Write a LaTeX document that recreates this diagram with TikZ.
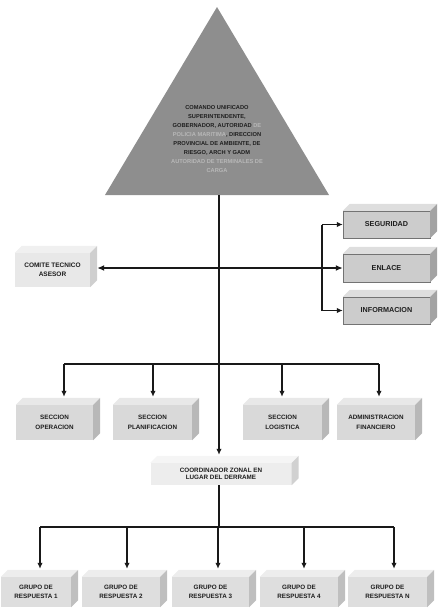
\documentclass[tikz,border=0pt]{standalone}
\usepackage{fontspec}
\setmainfont{Liberation Sans}
\usetikzlibrary{arrows.meta}
\definecolor{tri}{HTML}{8E8E8E}
\definecolor{trifaint}{HTML}{B8B8B8}
\definecolor{txt}{HTML}{1E1E1E}
\tikzset{
  cube/.style={fill=#1, inner sep=0pt, align=center, text=txt,
    font=\bfseries\fontsize{6.3}{7.6}\selectfont},
  cubeR/.style={cube=#1, draw=black!55, line width=0.4pt,
    font=\bfseries\fontsize{7.2}{8.6}\selectfont},
  conn/.style={line width=1.6pt, black!90},
  arr/.style={conn, -{Latex[length=6pt,width=5.5pt]}},
  dblarr/.style={conn, line width=1.9pt, {Latex[length=7pt,width=6pt]}-{Latex[length=7pt,width=6pt]}},
  totop/.style={shorten >=8pt}
}
\newcommand\boxfaces[3]{%
  \fill[#2] (#1.north west) -- ++(7,-7) -- ([shift={(7,-7)}]#1.north east) -- (#1.north east) -- cycle;
  \fill[#3] (#1.north east) -- ++(7,-7) -- ([shift={(7,-7)}]#1.south east) -- (#1.south east) -- cycle;
}
\begin{document}
\begin{tikzpicture}[x=1pt,y=-1pt]
\useasboundingbox (0,0) rectangle (441,614);

% triangle
\coordinate (apex) at (217,7);
\coordinate (bl) at (105,195);
\coordinate (br) at (329,195);
\coordinate (tbase) at (219,195);
\fill[tri] (apex) -- (br) -- (bl) -- cycle;
\node[align=center, text=txt, font=\bfseries\fontsize{5.7}{9.1}\selectfont] (cmd) at (217,139)
 {COMANDO UNIFICADO\\
  SUPERINTENDENTE,\\
  GOBERNADOR, AUTORIDAD \textcolor{trifaint}{DE}\\
  \textcolor{trifaint}{POLICIA MARITIMA}, DIRECCION\\
  PROVINCIAL DE AMBIENTE, DE\\
  RIESGO, ARCH Y GADM\\
  \textcolor{trifaint}{AUTORIDAD DE TERMINALES DE}\\
  \textcolor{trifaint}{CARGA}};

% right boxes
\node[cubeR=black!20, minimum width=87pt, minimum height=27pt] (seg) at (386.5,224.5) {SEGURIDAD};
\node[cubeR=black!20, minimum width=87pt, minimum height=28pt] (enl) at (386.5,268) {ENLACE};
\node[cubeR=black!20, minimum width=87pt, minimum height=27pt] (inf) at (386.5,310.5) {INFORMACION};
\boxfaces{seg}{black!13}{black!36}
\boxfaces{enl}{black!13}{black!36}
\boxfaces{inf}{black!13}{black!36}

% comite
\node[cube=black!9, minimum width=75pt, minimum height=34pt, font=\bfseries\fontsize{6.5}{9}\selectfont] (com) at (52.5,270) {COMITE TECNICO\\ASESOR};
\boxfaces{com}{black!6}{black!19}

% sections
\node[cube=black!15, minimum width=77pt, minimum height=35pt] (sop) at (54.5,422.5) {SECCION\\[2pt]OPERACION};
\node[cube=black!15, minimum width=79pt, minimum height=35pt] (spl) at (152.5,422.5) {SECCION\\[2pt]PLANIFICACION};
\node[cube=black!15, minimum width=79pt, minimum height=35pt] (slo) at (282.5,422.5) {SECCION\\[2pt]LOGISTICA};
\node[cube=black!15, minimum width=78pt, minimum height=35pt] (adm) at (376,422.5) {ADMINISTRACION\\[2pt]FINANCIERO};
\boxfaces{sop}{black!9}{black!28}
\boxfaces{spl}{black!9}{black!28}
\boxfaces{slo}{black!9}{black!28}
\boxfaces{adm}{black!9}{black!28}

% coordinator
\node[cube=black!7, minimum width=141pt, minimum height=22pt] (coo) at (221,474) {COORDINADOR ZONAL EN\\LUGAR DEL DERRAME};
\boxfaces{coo}{black!4}{black!18}

% groups
\node[cube=black!13, minimum width=70pt, minimum height=30pt] (g1) at (36,592) {GRUPO DE\\[2pt]RESPUESTA 1};
\node[cube=black!13, minimum width=78pt, minimum height=30pt] (g2) at (121,592) {GRUPO DE\\[2pt]RESPUESTA 2};
\node[cube=black!13, minimum width=77pt, minimum height=30pt] (g3) at (210.5,592) {GRUPO DE\\[2pt]RESPUESTA 3};
\node[cube=black!13, minimum width=78pt, minimum height=30pt] (g4) at (299,592) {GRUPO DE\\[2pt]RESPUESTA 4};
\node[cube=black!13, minimum width=79pt, minimum height=30pt] (g5) at (387.5,592) {GRUPO DE\\[2pt]RESPUESTA N};
\boxfaces{g1}{black!7}{black!25}
\boxfaces{g2}{black!7}{black!25}
\boxfaces{g3}{black!7}{black!25}
\boxfaces{g4}{black!7}{black!25}
\boxfaces{g5}{black!7}{black!25}

% connectors
\coordinate (rb) at (322,0);
\coordinate (sbar) at (219,364);
\coordinate (s1) at (64,364);
\coordinate (s2) at (153,364);
\coordinate (s3) at (282,364);
\coordinate (s4) at (379,364);
\coordinate (gbar) at (219,527);
\coordinate (q1) at (40,527);
\coordinate (q2) at (127,527);
\coordinate (q3) at (218,527);
\coordinate (q4) at (304,527);
\coordinate (q5) at (394,527);

\draw[conn] (tbase) -- (sbar);
\draw[arr, totop] (sbar) -- (sbar |- coo.north);
\draw[dblarr] ([xshift=7pt]com.east |- enl.west) -- (enl.west);
\draw[conn] (rb |- seg.west) -- (rb |- inf.west);
\draw[arr] (rb |- seg.west) -- (seg.west);
\draw[arr] (rb |- inf.west) -- (inf.west);

\draw[conn] (s1) -- (s4);
\draw[arr, totop] (s1) -- (s1 |- sop.north);
\draw[arr, totop] (s2) -- (s2 |- spl.north);
\draw[arr, totop] (s3) -- (s3 |- slo.north);
\draw[arr, totop] (s4) -- (s4 |- adm.north);

\draw[conn] (gbar |- coo.south) -- (gbar);
\draw[conn] (q1) -- (q5);
\draw[arr, totop] (q1) -- (q1 |- g1.north);
\draw[arr, totop] (q2) -- (q2 |- g2.north);
\draw[arr, totop] (q3) -- (q3 |- g3.north);
\draw[arr, totop] (q4) -- (q4 |- g4.north);
\draw[arr, totop] (q5) -- (q5 |- g5.north);
\end{tikzpicture}
\end{document}
